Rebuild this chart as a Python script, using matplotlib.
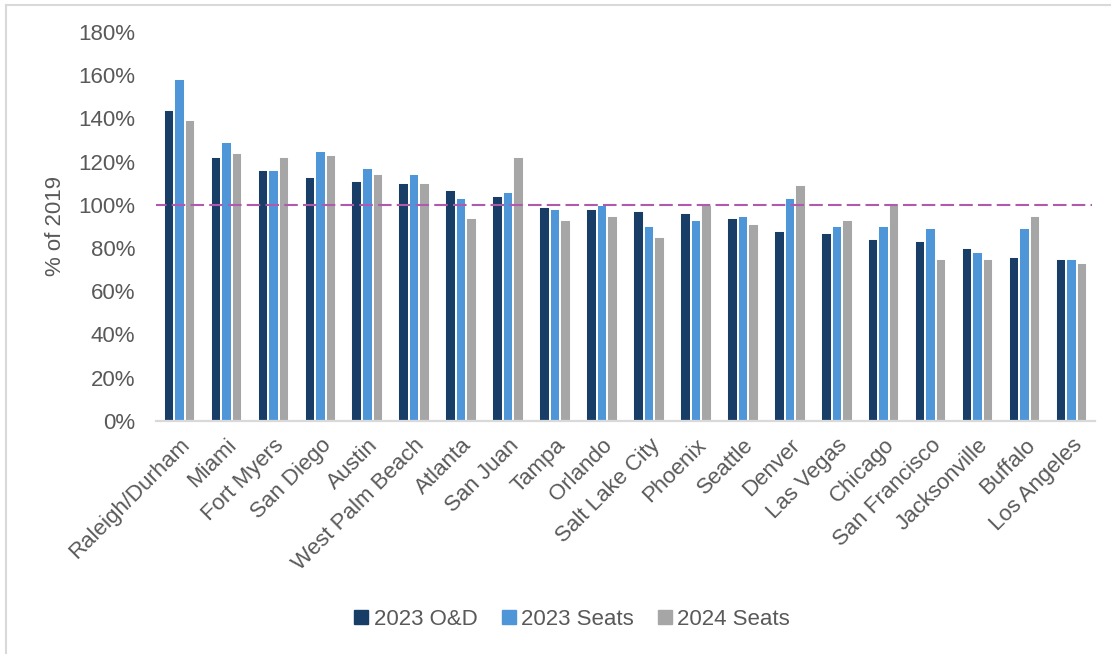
import matplotlib
matplotlib.use("Agg")
import matplotlib.pyplot as plt
import numpy as np
from matplotlib.ticker import PercentFormatter
from matplotlib.lines import Line2D

cities = ["Raleigh/Durham", "Miami", "Fort Myers", "San Diego", "Austin",
          "West Palm Beach", "Atlanta", "San Juan", "Tampa", "Orlando",
          "Salt Lake City", "Phoenix", "Seattle", "Denver", "Las Vegas",
          "Chicago", "San Francisco", "Jacksonville", "Buffalo", "Los Angeles"]
od_2023 = [144, 122, 116, 113, 111, 110, 107, 104, 99, 98,
           97, 96, 94, 88, 87, 84, 83, 80, 76, 75]
seats_2023 = [158, 129, 116, 125, 117, 114, 103, 106, 98, 100,
              90, 93, 95, 103, 90, 90, 89, 78, 89, 75]
seats_2024 = [139, 124, 122, 123, 114, 110, 94, 122, 93, 95,
              85, 100, 91, 109, 93, 100, 75, 75, 95, 73]
series_names = ["2023 O&D", "2023 Seats", "2024 Seats"]
series_colors = ["#183d66", "#4f96d9", "#a6a6a6"]
yticks = [0, 20, 40, 60, 80, 100, 120, 140, 160, 180]

text_color = "#595959"
plt.rcParams["font.family"] = ["Liberation Sans", "DejaVu Sans"]

fig = plt.figure(figsize=(11.11, 6.54), dpi=100)
ax = fig.add_axes([0.1404, 0.3567, 0.8452, 0.5945])

x = np.arange(len(cities))
width = 0.224
for i, (vals, name, col) in enumerate(zip([od_2023, seats_2023, seats_2024],
                                          series_names, series_colors)):
    ax.bar(x + (i - 1) * width, vals, width=width, color=col,
           edgecolor="white", linewidth=1.4, label=name, zorder=2)

# reference line at 2019 level
ax.axhline(100, color="#b05aae", linestyle=(0, (6.5, 2.5)), linewidth=1.5,
           zorder=3, xmin=-0.003, xmax=0.997)

ax.set_xlim(-0.5, len(cities) - 0.5)
ax.set_ylim(0, 180)
ax.set_yticks(yticks)
ax.yaxis.set_major_formatter(PercentFormatter(decimals=0))
ax.set_xticks(x)
ax.set_xticklabels(cities, rotation=45, ha="right", va="top",
                   rotation_mode="anchor")

for s in ["top", "right", "left"]:
    ax.spines[s].set_visible(False)
ax.spines["bottom"].set_color("#d9d9d9")
ax.spines["bottom"].set_linewidth(1.6)
ax.tick_params(axis="both", length=0, colors=text_color, labelsize=16)
ax.tick_params(axis="y", pad=15)
ax.tick_params(axis="x", pad=10)

ax.set_ylabel("% of 2019", fontsize=16, color=text_color, labelpad=9)

handles = [Line2D([0], [0], marker="s", linestyle="none", markersize=10,
                  markerfacecolor=c, markeredgecolor=c) for c in series_colors]
fig.legend(handles, series_names, loc="center", bbox_to_anchor=(0.513, 0.053),
           ncol=3, frameon=False, fontsize=16, labelcolor=text_color,
           handletextpad=0.05, columnspacing=0.9, handlelength=1.0)

# light frame on the top and left edges
fig.add_artist(Line2D([6 / 1111, 6 / 1111], [0, 1 - 5 / 654],
                      transform=fig.transFigure, color="#d9d9d9", linewidth=1.5))
fig.add_artist(Line2D([6 / 1111, 1], [1 - 5 / 654, 1 - 5 / 654],
                      transform=fig.transFigure, color="#d9d9d9", linewidth=1.5))

fig.savefig("out.png", dpi=100, facecolor="white")
